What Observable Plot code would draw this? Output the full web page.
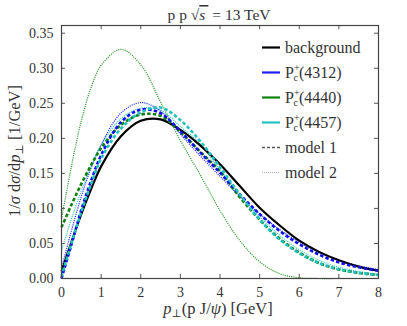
<!DOCTYPE html>
<html>
<head>
<meta charset="utf-8">
<script src="https://cdn.jsdelivr.net/npm/d3@7"></script>
<script src="https://cdn.jsdelivr.net/npm/@observablehq/plot@0.6"></script>
<style>
  html, body { margin: 0; padding: 0; background: #fff; }
  #chart { width: 407px; height: 326px; }
  svg, svg text { font-family: "Liberation Serif", "DejaVu Serif", serif !important; }
</style>
</head>
<body>
<div id="chart"></div>
<script>
// ---- data ----
const pT = [0, 0.25, 0.5, 0.75, 1, 1.5, 2, 2.5, 3, 3.5, 4, 4.5, 5, 5.5, 6, 6.5, 7, 7.5, 8];

const background   = [0.010, 0.052, 0.092, 0.128, 0.160, 0.203, 0.225, 0.227, 0.212, 0.190, 0.163, 0.132, 0.101, 0.076, 0.054, 0.038, 0.026, 0.017, 0.011];
const pc4312_m1    = [0.000, 0.048, 0.098, 0.140, 0.176, 0.223, 0.241, 0.236, 0.210, 0.180, 0.151, 0.120, 0.092, 0.068, 0.049, 0.034, 0.023, 0.016, 0.011];
const pc4312_m2    = [0.015, 0.068, 0.117, 0.158, 0.191, 0.236, 0.251, 0.239, 0.206, 0.175, 0.146, 0.117, 0.092, 0.070, 0.052, 0.037, 0.026, 0.018, 0.013];
const pc4440_m1    = [0.073, 0.105, 0.135, 0.162, 0.186, 0.219, 0.234, 0.232, 0.209, 0.181, 0.153, 0.116, 0.084, 0.057, 0.037, 0.022, 0.013, 0.008, 0.005];
const pc4440_m2    = [0.085, 0.160, 0.225, 0.273, 0.304, 0.327, 0.305, 0.252, 0.197, 0.148, 0.097, 0.054, 0.024, 0.007, 0.001, 0.0, 0.0, 0.0, 0.0];
const pc4457_m1    = [0.003, 0.050, 0.095, 0.135, 0.171, 0.214, 0.237, 0.244, 0.226, 0.196, 0.159, 0.120, 0.084, 0.056, 0.036, 0.022, 0.013, 0.008, 0.005];
const pc4457_m2    = [0.040, 0.085, 0.125, 0.160, 0.190, 0.228, 0.243, 0.240, 0.217, 0.192, 0.155, 0.120, 0.088, 0.062, 0.041, 0.026, 0.016, 0.010, 0.006];

const xTicks = [0, 1, 2, 3, 4, 5, 6, 7, 8];
const yTicks = [0, 0.05, 0.10, 0.15, 0.20, 0.25, 0.30, 0.35];
const yMax = 0.361;

const seriesList = [
  {key: "4312 m2", values: pc4312_m2, color: "#2a2aff", style: "dot"},
  {key: "4457 m2", values: pc4457_m2, color: "#30c8c8", style: "dot"},
  {key: "4440 m2", values: pc4440_m2, color: "#2a9a2a", style: "dot"},
  {key: "background", values: background, color: "#000000", style: "solid"},
  {key: "4440 m1", values: pc4440_m1, color: "#108010", style: "dash"},
  {key: "4312 m1", values: pc4312_m1, color: "#1010ee", style: "dash"},
  {key: "4457 m1", values: pc4457_m1, color: "#22c0c0", style: "dash"}
];

const lineMarks = seriesList.map(s => {
  const rows = pT.map((p, i) => ({p, v: s.values[i]}));
  const opts = {x: "p", y: "v", stroke: s.color, curve: "catmull-rom", strokeLinecap: "butt"};
  if (s.style === "solid") Object.assign(opts, {strokeWidth: 2.2});
  if (s.style === "dash") Object.assign(opts, {strokeWidth: 2.6, strokeDasharray: "3.5,2.2"});
  if (s.style === "dot") Object.assign(opts, {strokeWidth: 1.2, strokeDasharray: "1.1,1.1"});
  return Plot.line(rows, opts);
});

const plot = Plot.plot({
  width: 407,
  height: 326,
  marginLeft: 61,
  marginRight: 29,
  marginTop: 25,
  marginBottom: 48,
  style: {fontFamily: "'Liberation Serif', serif", fontSize: "14px", background: "#fff"},
  x: {domain: [0, 8]},
  y: {domain: [0, yMax]},
  marks: [
    ...lineMarks,
    Plot.ruleX(xTicks, {y1: 0, y2: 0.006, stroke: "#555"}),
    Plot.ruleX(xTicks, {y1: yMax - 0.006, y2: yMax, stroke: "#555"}),
    Plot.ruleY(yTicks, {x1: 0, x2: 0.1, stroke: "#555"}),
    Plot.ruleY(yTicks, {x1: 7.9, x2: 8, stroke: "#555"}),
    Plot.frame({stroke: "#444", strokeWidth: 1.2}),
    Plot.axisX(xTicks, {tickSize: 0, tickPadding: 9, tickFormat: d => d3.format("d")(d), label: null, fill: "#333"}),
    Plot.axisY(yTicks, {tickSize: 0, tickPadding: 8, tickFormat: d => d3.format(".2f")(d), label: null, fill: "#333"})
  ]
});
document.getElementById("chart").appendChild(plot);

// ---- title, axis labels, legend (rich text) ----
const svg = d3.select(plot);
const ink = "#333";
const serif = "Liberation Serif";

const title = svg.append("text").attr("x", 219).attr("y", 20).attr("text-anchor", "middle")
  .attr("font-family", serif).attr("font-size", 15.5).attr("fill", ink);
title.append("tspan").text("p p \u221A");
title.append("tspan").attr("font-style", "italic").attr("text-decoration", "overline").text("s\u2009");
title.append("tspan").text(" = 13 TeV");

const xl = svg.append("text").attr("x", 218).attr("y", 314).attr("text-anchor", "middle")
  .attr("font-family", serif).attr("font-size", 16.5).attr("fill", ink);
xl.append("tspan").attr("font-style", "italic").text("p");
xl.append("tspan").attr("font-size", 11).attr("dy", 3).text("\u22A5");
xl.append("tspan").attr("dy", -3).text("(p J/");
xl.append("tspan").attr("font-style", "italic").text("\u03C8");
xl.append("tspan").text(") [GeV]");

const yl = svg.append("text").attr("transform", "translate(20,151) rotate(-90)").attr("text-anchor", "middle")
  .attr("font-family", serif).attr("font-size", 16.5).attr("fill", ink);
yl.append("tspan").text("1/");
yl.append("tspan").attr("font-style", "italic").text("\u03C3");
yl.append("tspan").text(" d");
yl.append("tspan").attr("font-style", "italic").text("\u03C3");
yl.append("tspan").text("/d");
yl.append("tspan").attr("font-style", "italic").text("p");
yl.append("tspan").attr("font-size", 11).attr("dy", 3).text("\u22A5");
yl.append("tspan").attr("dy", -3).text(" [1/GeV]");

const legendItems = [
  {label: "background", color: "#000", dash: null, width: 2.2},
  {label: "4312", color: "#2020ff", dash: null, width: 2.2, pc: true},
  {label: "4440", color: "#108010", dash: null, width: 2.2, pc: true},
  {label: "4457", color: "#22c0c0", dash: null, width: 2.2, pc: true},
  {label: "model 1", color: "#555", dash: "3,2", width: 1.6},
  {label: "model 2", color: "#aaa", dash: "1,1", width: 1.0}
];
const lg = svg.append("g").attr("text-anchor", "start");
legendItems.forEach((it, i) => {
  const y = 47.5 + i * 25;
  const ln = lg.append("line").attr("x1", 262).attr("x2", 280).attr("y1", y).attr("y2", y)
    .attr("stroke", it.color).attr("stroke-width", it.width);
  if (it.dash) ln.attr("stroke-dasharray", it.dash);
  const t = lg.append("text").attr("x", 285).attr("y", y + 5).attr("font-size", 16).attr("fill", ink)
    .attr("font-family", serif).attr("text-anchor", "start");
  if (it.pc) {
    t.append("tspan").text("P");
    t.append("tspan").attr("font-size", 10).attr("dy", -7).text("+");
    t.append("tspan").attr("font-size", 10).attr("dx", -6).attr("dy", 10).text("c");
    t.append("tspan").attr("dy", -3).attr("dx", 1).text("(" + it.label + ")");
  } else {
    t.text(it.label);
  }
});
</script>
</body>
</html>
